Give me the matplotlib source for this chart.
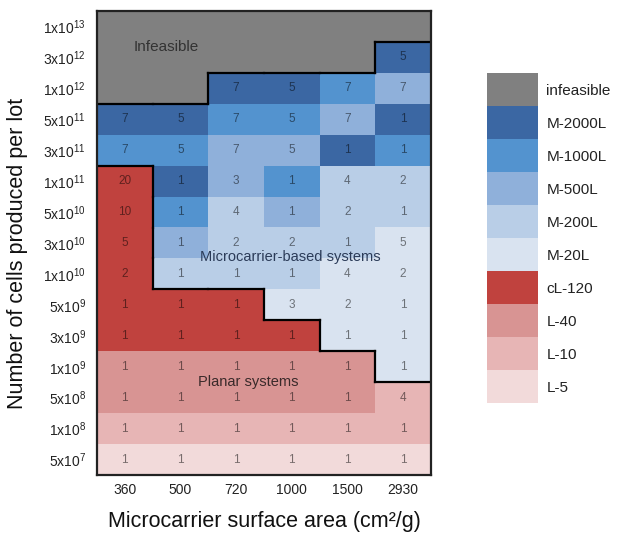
import numpy as np
import matplotlib
matplotlib.use("Agg")
import matplotlib.pyplot as plt
from matplotlib.colors import ListedColormap, BoundaryNorm
from matplotlib.collections import LineCollection

plt.rcParams['font.family'] = ['Liberation Sans', 'DejaVu Sans']
plt.rcParams['mathtext.fontset'] = 'custom'
plt.rcParams['mathtext.rm'] = 'Liberation Sans'
plt.rcParams['mathtext.it'] = 'Liberation Sans:italic'
plt.rcParams['mathtext.bf'] = 'Liberation Sans:bold'
plt.rcParams['mathtext.default'] = 'regular'

# ---- data ----
categories = ['infeasible', 'M-2000L', 'M-1000L', 'M-500L', 'M-200L', 'M-20L',
              'cL-120', 'L-40', 'L-10', 'L-5']
cat_colors = ['#808080', '#3b67a3', '#5393cf', '#8fb0da', '#b9cee7', '#d9e3f0',
              '#c0423e', '#d89493', '#e7b5b5', '#f2dada']
cat_group = [0, 1, 1, 1, 1, 1, 2, 2, 2, 2]  # infeasible / microcarrier / planar

surface_areas = ['360', '500', '720', '1000', '1500', '2930']
cell_lots = ['1x10$^{13}$', '3x10$^{12}$', '1x10$^{12}$', '5x10$^{11}$', '3x10$^{11}$',
             '1x10$^{11}$', '5x10$^{10}$', '3x10$^{10}$', '1x10$^{10}$', '5x10$^{9}$',
             '3x10$^{9}$', '1x10$^{9}$', '5x10$^{8}$', '1x10$^{8}$', '5x10$^{7}$']

# category index for each cell (rows top -> bottom, columns left -> right)
system = [
    [0, 0, 0, 0, 0, 0],
    [0, 0, 0, 0, 0, 1],
    [0, 0, 1, 1, 2, 3],
    [1, 1, 2, 2, 3, 1],
    [2, 2, 3, 3, 1, 2],
    [6, 1, 3, 2, 4, 4],
    [6, 2, 4, 3, 4, 4],
    [6, 3, 4, 4, 4, 5],
    [6, 4, 4, 4, 5, 5],
    [6, 6, 6, 5, 5, 5],
    [6, 6, 6, 6, 5, 5],
    [7, 7, 7, 7, 7, 5],
    [7, 7, 7, 7, 7, 8],
    [8, 8, 8, 8, 8, 8],
    [9, 9, 9, 9, 9, 9],
]
# number of units (0 = none shown)
units = [
    [0, 0, 0, 0, 0, 0],
    [0, 0, 0, 0, 0, 5],
    [0, 0, 7, 5, 7, 7],
    [7, 5, 7, 5, 7, 1],
    [7, 5, 7, 5, 1, 1],
    [20, 1, 3, 1, 4, 2],
    [10, 1, 4, 1, 2, 1],
    [5, 1, 2, 2, 1, 5],
    [2, 1, 1, 1, 4, 2],
    [1, 1, 1, 3, 2, 1],
    [1, 1, 1, 1, 1, 1],
    [1, 1, 1, 1, 1, 1],
    [1, 1, 1, 1, 1, 4],
    [1, 1, 1, 1, 1, 1],
    [1, 1, 1, 1, 1, 1],
]

system = np.array(system)
units = np.array(units)
nrows, ncols = system.shape

cmap = ListedColormap(cat_colors)
norm = BoundaryNorm(np.arange(len(categories) + 1) - 0.5, cmap.N)

fig = plt.figure(figsize=(6.18, 5.33), dpi=100)
ax = fig.add_axes([97/618, 1 - 475/533, 334/618, 464/533])
ax.imshow(system, cmap=cmap, norm=norm, aspect='auto', interpolation='nearest')

# numbers
for r in range(nrows):
    for c in range(ncols):
        if units[r, c] > 0:
            ax.text(c, r, str(units[r, c]), ha='center', va='center', fontsize=8.5,
                    color='black', alpha=0.5)

# group boundaries derived from data
groups = np.array(cat_group)[system]
segs = []
for r in range(nrows - 1):
    for c in range(ncols):
        if groups[r, c] != groups[r + 1, c]:
            segs.append([(c - 0.5, r + 0.5), (c + 0.5, r + 0.5)])
for r in range(nrows):
    for c in range(ncols - 1):
        if groups[r, c] != groups[r, c + 1]:
            segs.append([(c + 0.5, r - 0.5), (c + 0.5, r + 0.5)])
ax.add_collection(LineCollection(segs, colors='black', linewidths=1.6,
                                 capstyle='projecting'))

# region labels
ax.text(0.75, 0.65, 'Infeasible', ha='center', va='center', fontsize=11, color='#333333')
ax.text(2.98, 7.45, 'Microcarrier-based systems', ha='center', va='center',
        fontsize=10.5, color='#2b3b58')
ax.text(2.21, 11.5, 'Planar systems', ha='center', va='center', fontsize=10.5,
        color='#3a2a2a')

ax.set_xticks(range(ncols))
ax.set_xticklabels(surface_areas, fontsize=10, color='#222222')
ax.set_yticks(range(nrows))
ax.set_yticklabels(cell_lots, fontsize=10, color='#222222')
ax.tick_params(axis='y', length=0, pad=8)
ax.tick_params(axis='x', length=0, pad=6)
for s in ax.spines.values():
    s.set_linewidth(1.6)
    s.set_color('#222222')

ax.set_xlabel('Microcarrier surface area (cm²/g)', fontsize=15.5, color='#111111')
ax.xaxis.set_label_coords(0.5, -0.078)
ax.set_ylabel('Number of cells produced per lot', fontsize=15.5, color='#111111')
ax.yaxis.set_label_coords(-0.207, 0.478)

# legend as stacked colour blocks
cax = fig.add_axes([487/618, 1 - 403/533, 51/618, 330/533])
cax.imshow(np.arange(len(categories)).reshape(-1, 1), cmap=cmap, norm=norm,
           aspect='auto', interpolation='nearest')
cax.set_xticks([])
cax.yaxis.tick_right()
cax.set_yticks(range(len(categories)))
cax.set_yticklabels(categories, fontsize=11, color='#222222')
cax.tick_params(length=0, pad=6)
for s in cax.spines.values():
    s.set_visible(False)

fig.savefig('out.png', dpi=100)
